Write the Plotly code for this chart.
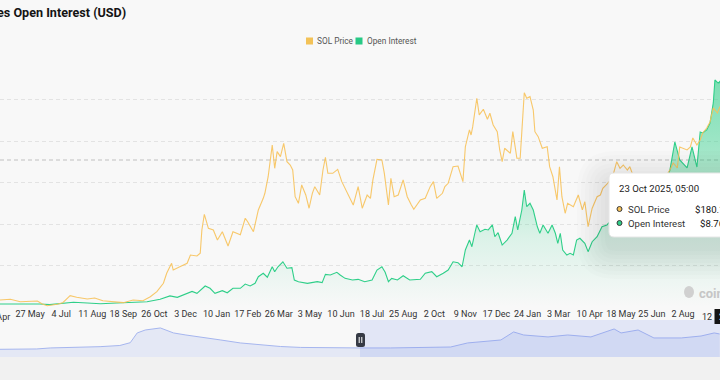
import plotly.graph_objects as go

# ---------------- data ----------------
price_dates = [
    "2023-04-20", "2023-05-03", "2023-05-15", "2023-05-27", "2023-06-05", "2023-06-11", "2023-06-17", "2023-06-29",
    "2023-07-06", "2023-07-15", "2023-07-23", "2023-08-05", "2023-08-14", "2023-08-24", "2023-09-05", "2023-09-18",
    "2023-09-30", "2023-10-12", "2023-10-21", "2023-10-29", "2023-11-06", "2023-11-10", "2023-11-16", "2023-11-18",
    "2023-11-26", "2023-12-05", "2023-12-09", "2023-12-17", "2023-12-21", "2023-12-23", "2023-12-26", "2023-12-31",
    "2024-01-06", "2024-01-11", "2024-01-17", "2024-01-24", "2024-01-30", "2024-02-08", "2024-02-14", "2024-02-17",
    "2024-02-24", "2024-03-01", "2024-03-07", "2024-03-09", "2024-03-13", "2024-03-18", "2024-03-21", "2024-03-24",
    "2024-03-28", "2024-04-01", "2024-04-05", "2024-04-09", "2024-04-12", "2024-04-15", "2024-04-19", "2024-04-23",
    "2024-04-28", "2024-05-02", "2024-05-06", "2024-05-09", "2024-05-15", "2024-05-19", "2024-05-22", "2024-05-25",
    "2024-05-31", "2024-06-06", "2024-06-11", "2024-06-17", "2024-06-21", "2024-06-25", "2024-07-01", "2024-07-06",
    "2024-07-12", "2024-07-16", "2024-07-19", "2024-07-24", "2024-07-30", "2024-08-02", "2024-08-07", "2024-08-10",
    "2024-08-14", "2024-08-19", "2024-08-25", "2024-08-30", "2024-09-04", "2024-09-07", "2024-09-15", "2024-09-21",
    "2024-09-27", "2024-10-01", "2024-10-05", "2024-10-12", "2024-10-15", "2024-10-19", "2024-10-25", "2024-10-31",
    "2024-11-06", "2024-11-09", "2024-11-14", "2024-11-16", "2024-11-18", "2024-11-23", "2024-11-26", "2024-12-01",
    "2024-12-06", "2024-12-09", "2024-12-13", "2024-12-18", "2024-12-21", "2024-12-24", "2024-12-27", "2025-01-03",
    "2025-01-06", "2025-01-11", "2025-01-15", "2025-01-18", "2025-01-20", "2025-01-23", "2025-01-27", "2025-01-31",
    "2025-02-02", "2025-02-06", "2025-02-11", "2025-02-17", "2025-02-20", "2025-02-24", "2025-03-01", "2025-03-04",
    "2025-03-07", "2025-03-11", "2025-03-14", "2025-03-21", "2025-03-27", "2025-04-01", "2025-04-04", "2025-04-08",
    "2025-04-13", "2025-04-19", "2025-04-23", "2025-04-26", "2025-05-02", "2025-05-08", "2025-05-13", "2025-05-17",
    "2025-05-21", "2025-05-26", "2025-05-29", "2025-06-04", "2025-06-10", "2025-06-17", "2025-06-23", "2025-06-29",
    "2025-07-05", "2025-07-11", "2025-07-17", "2025-07-21", "2025-07-26", "2025-07-29", "2025-08-07", "2025-08-11",
    "2025-08-14", "2025-08-19", "2025-08-23", "2025-08-26", "2025-08-31", "2025-09-04", "2025-09-08", "2025-09-13",
    "2025-09-16", "2025-09-20", "2025-09-25", "2025-10-01", "2025-10-06", "2025-10-11", "2025-10-16", "2025-10-23",
]
price_values = [
    18.2, 19.1, 16.2, 16.7, 17.1, 13.5, 11.5, 13.2,
    15.1, 23.3, 21.4, 19.4, 20.6, 17.4, 15.9, 15.1,
    18.2, 17.4, 22.1, 28.0, 37.9, 49.7, 61.4, 53.5,
    57.4, 61.4, 71.2, 70.0, 73.2, 100.6, 119.1, 102.6,
    100.6, 88.8, 98.6, 81.8, 98.6, 95.0, 114.4, 110.4,
    98.6, 124.2, 137.9, 143.8, 163.3, 200.6, 173.2, 192.8,
    186.9, 202.6, 181.0, 177.1, 171.2, 139.8, 132.0, 153.6,
    141.8, 126.2, 143.8, 151.6, 141.8, 171.2, 186.2, 167.3,
    167.3, 172.0, 157.5, 145.7, 135.9, 130.0, 151.6, 126.2,
    141.8, 137.9, 159.5, 183.8, 183.0, 167.3, 130.0, 161.5,
    139.8, 141.8, 159.5, 139.8, 130.0, 125.0, 135.9, 137.9,
    151.6, 157.5, 137.9, 143.8, 151.6, 155.6, 175.1, 175.9,
    157.5, 198.6, 218.3, 212.4, 222.2, 255.6, 236.0, 242.7,
    230.9, 238.0, 224.2, 216.3, 194.8, 181.0, 196.8, 190.9,
    216.3, 185.0, 185.0, 230.1, 262.2, 255.6, 257.5, 241.8,
    216.3, 210.4, 196.8, 198.6, 175.1, 163.3, 135.9, 175.1,
    139.8, 120.3, 132.0, 128.0, 141.8, 124.2, 133.9, 104.5,
    126.2, 139.8, 141.8, 149.7, 155.6, 163.3, 181.0, 173.2,
    177.1, 171.2, 175.1, 159.5, 147.7, 141.8, 138.3, 145.3,
    153.6, 161.8, 171.2, 179.5, 173.6, 198.3, 194.8, 198.3,
    208.9, 200.6, 206.5, 214.8, 220.6, 227.7, 244.2, 238.3,
    245.4, 247.0, 205.0, 220.0, 232.0, 178.0, 190.0, 180.1,
]

oi_dates = [
    "2023-04-20", "2023-05-15", "2023-06-08", "2023-06-20", "2023-07-06", "2023-07-19", "2023-08-05", "2023-08-21",
    "2023-09-10", "2023-09-30", "2023-10-17", "2023-11-02", "2023-11-14", "2023-11-23", "2023-12-05", "2023-12-11",
    "2023-12-17", "2023-12-23", "2023-12-27", "2024-01-02", "2024-01-08", "2024-01-17", "2024-01-23", "2024-01-30",
    "2024-02-08", "2024-02-14", "2024-02-20", "2024-02-26", "2024-03-01", "2024-03-07", "2024-03-12", "2024-03-18",
    "2024-03-21", "2024-03-25", "2024-03-31", "2024-04-05", "2024-04-11", "2024-04-14", "2024-04-19", "2024-04-30",
    "2024-05-12", "2024-05-18", "2024-05-22", "2024-05-28", "2024-06-05", "2024-06-09", "2024-06-15", "2024-06-24",
    "2024-07-01", "2024-07-09", "2024-07-18", "2024-07-24", "2024-07-30", "2024-08-03", "2024-08-07", "2024-08-11",
    "2024-08-18", "2024-08-25", "2024-09-02", "2024-09-15", "2024-09-21", "2024-09-29", "2024-10-05", "2024-10-13",
    "2024-10-19", "2024-10-25", "2024-10-31", "2024-11-05", "2024-11-09", "2024-11-14", "2024-11-17", "2024-11-21",
    "2024-11-23", "2024-11-27", "2024-12-03", "2024-12-07", "2024-12-12", "2024-12-15", "2024-12-19", "2024-12-24",
    "2024-12-30", "2025-01-05", "2025-01-09", "2025-01-12", "2025-01-17", "2025-01-20", "2025-01-23", "2025-01-27",
    "2025-01-31", "2025-02-05", "2025-02-08", "2025-02-12", "2025-02-18", "2025-02-23", "2025-02-27", "2025-03-02",
    "2025-03-05", "2025-03-08", "2025-03-13", "2025-03-17", "2025-03-21", "2025-03-25", "2025-03-29", "2025-04-04",
    "2025-04-08", "2025-04-13", "2025-04-19", "2025-04-25", "2025-05-01", "2025-05-07", "2025-05-17", "2025-05-29",
    "2025-06-10", "2025-06-23", "2025-07-05", "2025-07-13", "2025-07-17", "2025-07-23", "2025-07-29", "2025-08-07",
    "2025-08-13", "2025-08-19", "2025-08-23", "2025-08-26", "2025-08-31", "2025-09-04", "2025-09-08", "2025-09-10",
    "2025-09-14", "2025-09-16", "2025-09-20", "2025-09-25", "2025-10-01", "2025-10-06", "2025-10-11", "2025-10-16",
    "2025-10-23",
]
oi_values = [  # billions USD
    0.22, 0.24, 0.22, 0.17, 0.24, 0.34, 0.29, 0.24,
    0.29, 0.31, 0.38, 0.56, 0.80, 0.70, 0.99, 1.13,
    0.99, 1.28, 1.52, 1.35, 0.99, 1.18, 1.03, 1.35,
    1.35, 1.66, 1.52, 1.71, 2.19, 2.44, 2.15, 2.91,
    2.55, 2.91, 3.27, 2.80, 2.84, 1.95, 1.83, 1.71,
    1.83, 1.76, 2.36, 2.31, 2.51, 2.31, 2.07, 1.95,
    2.00, 1.83, 1.95, 2.67, 2.91, 2.51, 1.83, 2.07,
    1.95, 2.26, 1.95, 2.00, 2.44, 2.55, 2.19, 2.44,
    2.67, 3.27, 3.20, 2.91, 4.12, 4.84, 4.36, 5.44,
    5.93, 5.44, 5.62, 5.57, 5.93, 5.08, 5.37, 4.48,
    4.84, 5.33, 6.53, 5.57, 7.01, 8.46, 7.25, 7.50,
    7.01, 5.80, 5.33, 5.93, 5.33, 5.93, 5.33, 4.60,
    5.33, 4.12, 3.76, 3.88, 3.76, 4.84, 4.97, 4.60,
    4.00, 4.72, 5.08, 5.80, 5.93, 6.29, 6.87, 6.43,
    7.37, 7.01, 8.31, 9.18, 9.90, 11.93, 10.63, 10.05,
    11.57, 10.12, 12.65, 12.58, 12.80, 13.30, 14.75, 16.41,
    16.19, 16.30, 15.50, 13.00, 13.50, 14.50, 9.50, 9.00,
    8.76,
]

nav_dates = [
    "2020-09-17", "2020-12-21", "2021-01-25", "2021-03-30", "2021-06-03", "2021-07-24", "2021-08-20", "2021-09-07",
    "2021-09-28", "2021-11-06", "2021-12-10", "2022-01-11", "2022-02-18", "2022-04-11", "2022-06-01", "2022-07-24",
    "2022-09-13", "2022-11-04", "2023-01-21", "2023-04-09", "2023-06-25", "2023-09-10", "2023-11-27", "2024-01-10",
    "2024-02-13", "2024-04-05", "2024-05-08", "2024-06-03", "2024-08-05", "2024-09-25", "2024-11-24", "2025-01-23",
    "2025-02-10", "2025-03-26", "2025-05-06", "2025-07-16", "2025-09-05", "2025-10-09", "2025-10-23",
]
nav_values = [
    8, 12, 24, 30, 39, 53, 86, 201,
    236, 260, 201, 177, 154, 118, 83, 59,
    41, 30, 24, 24, 24, 30, 35, 83,
    95, 118, 213, 177, 154, 177, 154, 248,
    201, 236, 142, 142, 165, 201, 189,
]

# axis ticks that lie fully inside the window
tick_dates = [
    "2023-05-27", "2023-07-04", "2023-08-11", "2023-09-18", "2023-10-26", "2023-12-03", "2024-01-10",
    "2024-02-17", "2024-03-26", "2024-05-03", "2024-06-10", "2024-07-18", "2024-08-25", "2024-10-02", "2024-11-09",
    "2024-12-17", "2025-01-24", "2025-03-03", "2025-04-10", "2025-05-18", "2025-06-25", "2025-08-02",
]
tick_labels = [
    "27 May", "4 Jul", "11 Aug", "18 Sep", "26 Oct", "3 Dec", "10 Jan",
    "17 Feb", "26 Mar", "3 May", "10 Jun", "18 Jul", "25 Aug", "2 Oct", "9 Nov",
    "17 Dec", "24 Jan", "3 Mar", "10 Apr", "18 May", "25 Jun", "2 Aug",
]
# tick labels cut by the left / right edges of the window
edge_left_label = "19 Apr"
edge_right_label = "12"

TITLE = "SOL Futures Open Interest (USD)"
TOOLTIP_DATE = "23 Oct 2025, 05:00"
TOOLTIP_PRICE = "$180.1"
TOOLTIP_OI = "$8.76B"

# ---------------- geometry helpers (pixel -> paper) ----------------
W, H = 720, 380
FONT = "Roboto, Inter, 'Open Sans', sans-serif"


def fx(p):
    return p / W


def fy(p):
    return 1 - p / H


def rrect_path(x0, y0, x1, y1, r):
    X0, X1, Y0, Y1 = fx(x0), fx(x1), fy(y0), fy(y1)
    rx, ry = r / W, r / H
    return (f"M {X0+rx},{Y0} L {X1-rx},{Y0} Q {X1},{Y0} {X1},{Y0-ry} "
            f"L {X1},{Y1+ry} Q {X1},{Y1} {X1-rx},{Y1} L {X0+rx},{Y1} "
            f"Q {X0},{Y1} {X0},{Y1+ry} L {X0},{Y0-ry} Q {X0},{Y0} {X0+rx},{Y0} Z")


MAIN_DOMAIN = [fy(307), fy(58)]
NAV_DOMAIN = [fy(357), fy(320)]

PRICE_COLOR = "#f7c25a"
OI_COLOR = "#2fcf89"

fig = go.Figure()

fig.add_trace(go.Scatter(
    x=oi_dates, y=oi_values, mode="lines", name="Open Interest",
    line=dict(color=OI_COLOR, width=1.1),
    fill="tozeroy",
    fillgradient=dict(type="vertical", start=0, stop=16.5,
                      colorscale=[[0, "rgba(47,207,137,0.0)"],
                                  [0.3, "rgba(47,207,137,0.14)"],
                                  [0.6, "rgba(47,207,137,0.38)"],
                                  [1, "rgba(47,207,137,0.62)"]]),
    xaxis="x", yaxis="y", hoverinfo="skip",
))
fig.add_trace(go.Scatter(
    x=price_dates, y=price_values, mode="lines", name="SOL Price",
    line=dict(color=PRICE_COLOR, width=1.1), opacity=0.9,
    xaxis="x", yaxis="y2", hoverinfo="skip",
))

# navigator
NAV_FLOOR = -83
fig.add_trace(go.Scatter(
    x=[nav_dates[0], nav_dates[-1]], y=[NAV_FLOOR, NAV_FLOOR], mode="lines",
    line=dict(width=0, color="rgba(0,0,0,0)"), xaxis="x2", yaxis="y3", hoverinfo="skip",
))
fig.add_trace(go.Scatter(
    x=nav_dates, y=nav_values, mode="lines", fill="tonexty",
    fillcolor="rgba(140,160,235,0.18)", line=dict(color="#a6b6ef", width=1),
    xaxis="x2", yaxis="y3", hoverinfo="skip",
))

shapes = []
annotations = []

# bottom band
shapes.append(dict(type="rect", xref="paper", yref="paper", x0=0, x1=1, y0=0, y1=fy(357),
                   fillcolor="#f1f1f1", line=dict(width=0), layer="below"))
# crosshair horizontal line
shapes.append(dict(type="line", xref="paper", yref="paper", x0=0, x1=1, y0=fy(160), y1=fy(160),
                   line=dict(color="#d2d2d2", width=1.5, dash="4px,3px"), layer="below"))
# navigator selection
shapes.append(dict(type="rect", xref="paper", yref="paper", x0=fx(360), x1=1, y0=fy(357), y1=fy(320),
                   fillcolor="rgba(120,145,235,0.17)", line=dict(width=0), layer="above"))
# navigator handle
shapes.append(dict(type="path", xref="paper", yref="paper", path=rrect_path(356, 333, 365, 347, 2.5),
                   fillcolor="#363a45", line=dict(width=0), layer="above"))
for hx in (359.2, 361.8):
    shapes.append(dict(type="line", xref="paper", yref="paper", x0=fx(hx), x1=fx(hx), y0=fy(337), y1=fy(343),
                       line=dict(color="white", width=1), layer="above"))

# tooltip shadow + box
for i in range(1, 9):
    e = i * 4
    shapes.append(dict(type="path", xref="paper", yref="paper",
                       path=rrect_path(609 - e, 173 - e + 10, 780 + e, 237 + e + 10, 6 + e),
                       fillcolor="rgba(0,0,0,0.012)", line=dict(width=0), layer="above"))
shapes.append(dict(type="path", xref="paper", yref="paper", path=rrect_path(609, 173, 780, 237, 5),
                   fillcolor="white", line=dict(color="#e6e6e6", width=1), layer="above"))
# tooltip dots
shapes.append(dict(type="circle", xref="paper", yref="paper", x0=fx(617), x1=fx(622), y0=fy(211.5), y1=fy(206.5),
                   fillcolor=PRICE_COLOR, line=dict(color="#3a3a3a", width=1), layer="above"))
shapes.append(dict(type="circle", xref="paper", yref="paper", x0=fx(617), x1=fx(622), y0=fy(225.5), y1=fy(220.5),
                   fillcolor=OI_COLOR, line=dict(color="#3a3a3a", width=1), layer="above"))

# legend squares
shapes.append(dict(type="rect", xref="paper", yref="paper", x0=fx(306), x1=fx(313), y0=fy(44.5), y1=fy(37.5),
                   fillcolor="#f3c257", line=dict(width=0)))
shapes.append(dict(type="rect", xref="paper", yref="paper", x0=fx(355.5), x1=fx(362.5), y0=fy(44.5), y1=fy(37.5),
                   fillcolor="#27c985", line=dict(width=0)))

# crosshair x label box (clipped at right edge)
shapes.append(dict(type="rect", xref="paper", yref="paper", x0=fx(714.5), x1=fx(790), y0=fy(324), y1=fy(309),
                   fillcolor="#151515", line=dict(width=0), layer="above"))

# watermark icon
shapes.append(dict(type="circle", xref="paper", yref="paper", x0=fx(684), x1=fx(694), y0=fy(298), y1=fy(286),
                   fillcolor="#d0d0d0", line=dict(width=0), layer="above"))


def ann(x, y, text, size=10, color="#333", xanchor="left", bold=False, **kw):
    annotations.append(dict(
        xref="paper", yref="paper", x=fx(x), y=fy(y), text=(f"<b>{text}</b>" if bold else text),
        showarrow=False, xanchor=xanchor, yanchor="middle",
        font=dict(family=FONT, size=size, color=color), **kw))


ann(128, 13, TITLE, size=12.6, color="#141414", xanchor="right", bold=True)
ann(315, 41, "SOL Price", size=8.3, color="#555")
ann(365, 41, "Open Interest", size=8.3, color="#555")
ann(617, 188, TOOLTIP_DATE, size=9.6, color="#222")
ann(626, 209, "SOL Price", size=9.6, color="#333")
ann(626, 223, "Open Interest", size=9.6, color="#333")
ann(693, 209, TOOLTIP_PRICE, size=9.6, color="#111")
ann(698, 223, TOOLTIP_OI, size=9.6, color="#111")
ann(697, 293, "coinglass", size=13, color="#c6c6c6", bold=True)
ann(716.5, 316.5, "23 Oct 2025", size=9, color="white", xanchor="left")
ann(-3, 316.5, edge_left_label, size=9, color="#333", xanchor="center")
ann(713.5, 316.5, edge_right_label, size=9, color="#333", xanchor="right")

fig.update_layout(
    width=W, height=H,
    margin=dict(l=0, r=0, t=0, b=0),
    paper_bgcolor="#f8f8f8", plot_bgcolor="rgba(0,0,0,0)",
    showlegend=False, hovermode=False,
    font=dict(family=FONT, color="#333"),
    xaxis=dict(domain=[0, 1], anchor="y", type="date",
               range=["2023-04-20 07:00", "2025-09-16 05:00"],
               tickmode="array", tickvals=tick_dates, ticktext=tick_labels, tickangle=0,
               showgrid=False, zeroline=False, showline=False, ticks="",
               tickfont=dict(size=9, color="#333", family=FONT),
               fixedrange=True),
    yaxis=dict(domain=MAIN_DOMAIN, range=[0, 18], tick0=0, dtick=3,
               showgrid=True, gridcolor="#e3e3e3", griddash="4px,3px", gridwidth=1,
               showticklabels=False, zeroline=False, ticks="", fixedrange=True),
    yaxis2=dict(overlaying="y", anchor="x", side="right", range=[10, 303],
                showgrid=False, showticklabels=False, zeroline=False, ticks="", fixedrange=True),
    xaxis2=dict(domain=[0, 1], anchor="y3", type="date", range=["2020-09-17", "2025-10-24"],
                visible=False, fixedrange=True),
    yaxis3=dict(domain=NAV_DOMAIN, anchor="x2", range=[NAV_FLOOR, 354], visible=False, fixedrange=True),
    shapes=shapes,
    annotations=annotations,
)

fig.write_html(
    "out.html",
    config={"displayModeBar": False, "staticPlot": True},
    post_script=(
        "var d=document.getElementById('{plot_id}');"
        "d.style.overflow='hidden';d.style.width='720px';d.style.height='380px';"
        "document.documentElement.style.overflow='hidden';"
        "document.body.style.margin='0';document.body.style.overflow='hidden';"
    ),
)
